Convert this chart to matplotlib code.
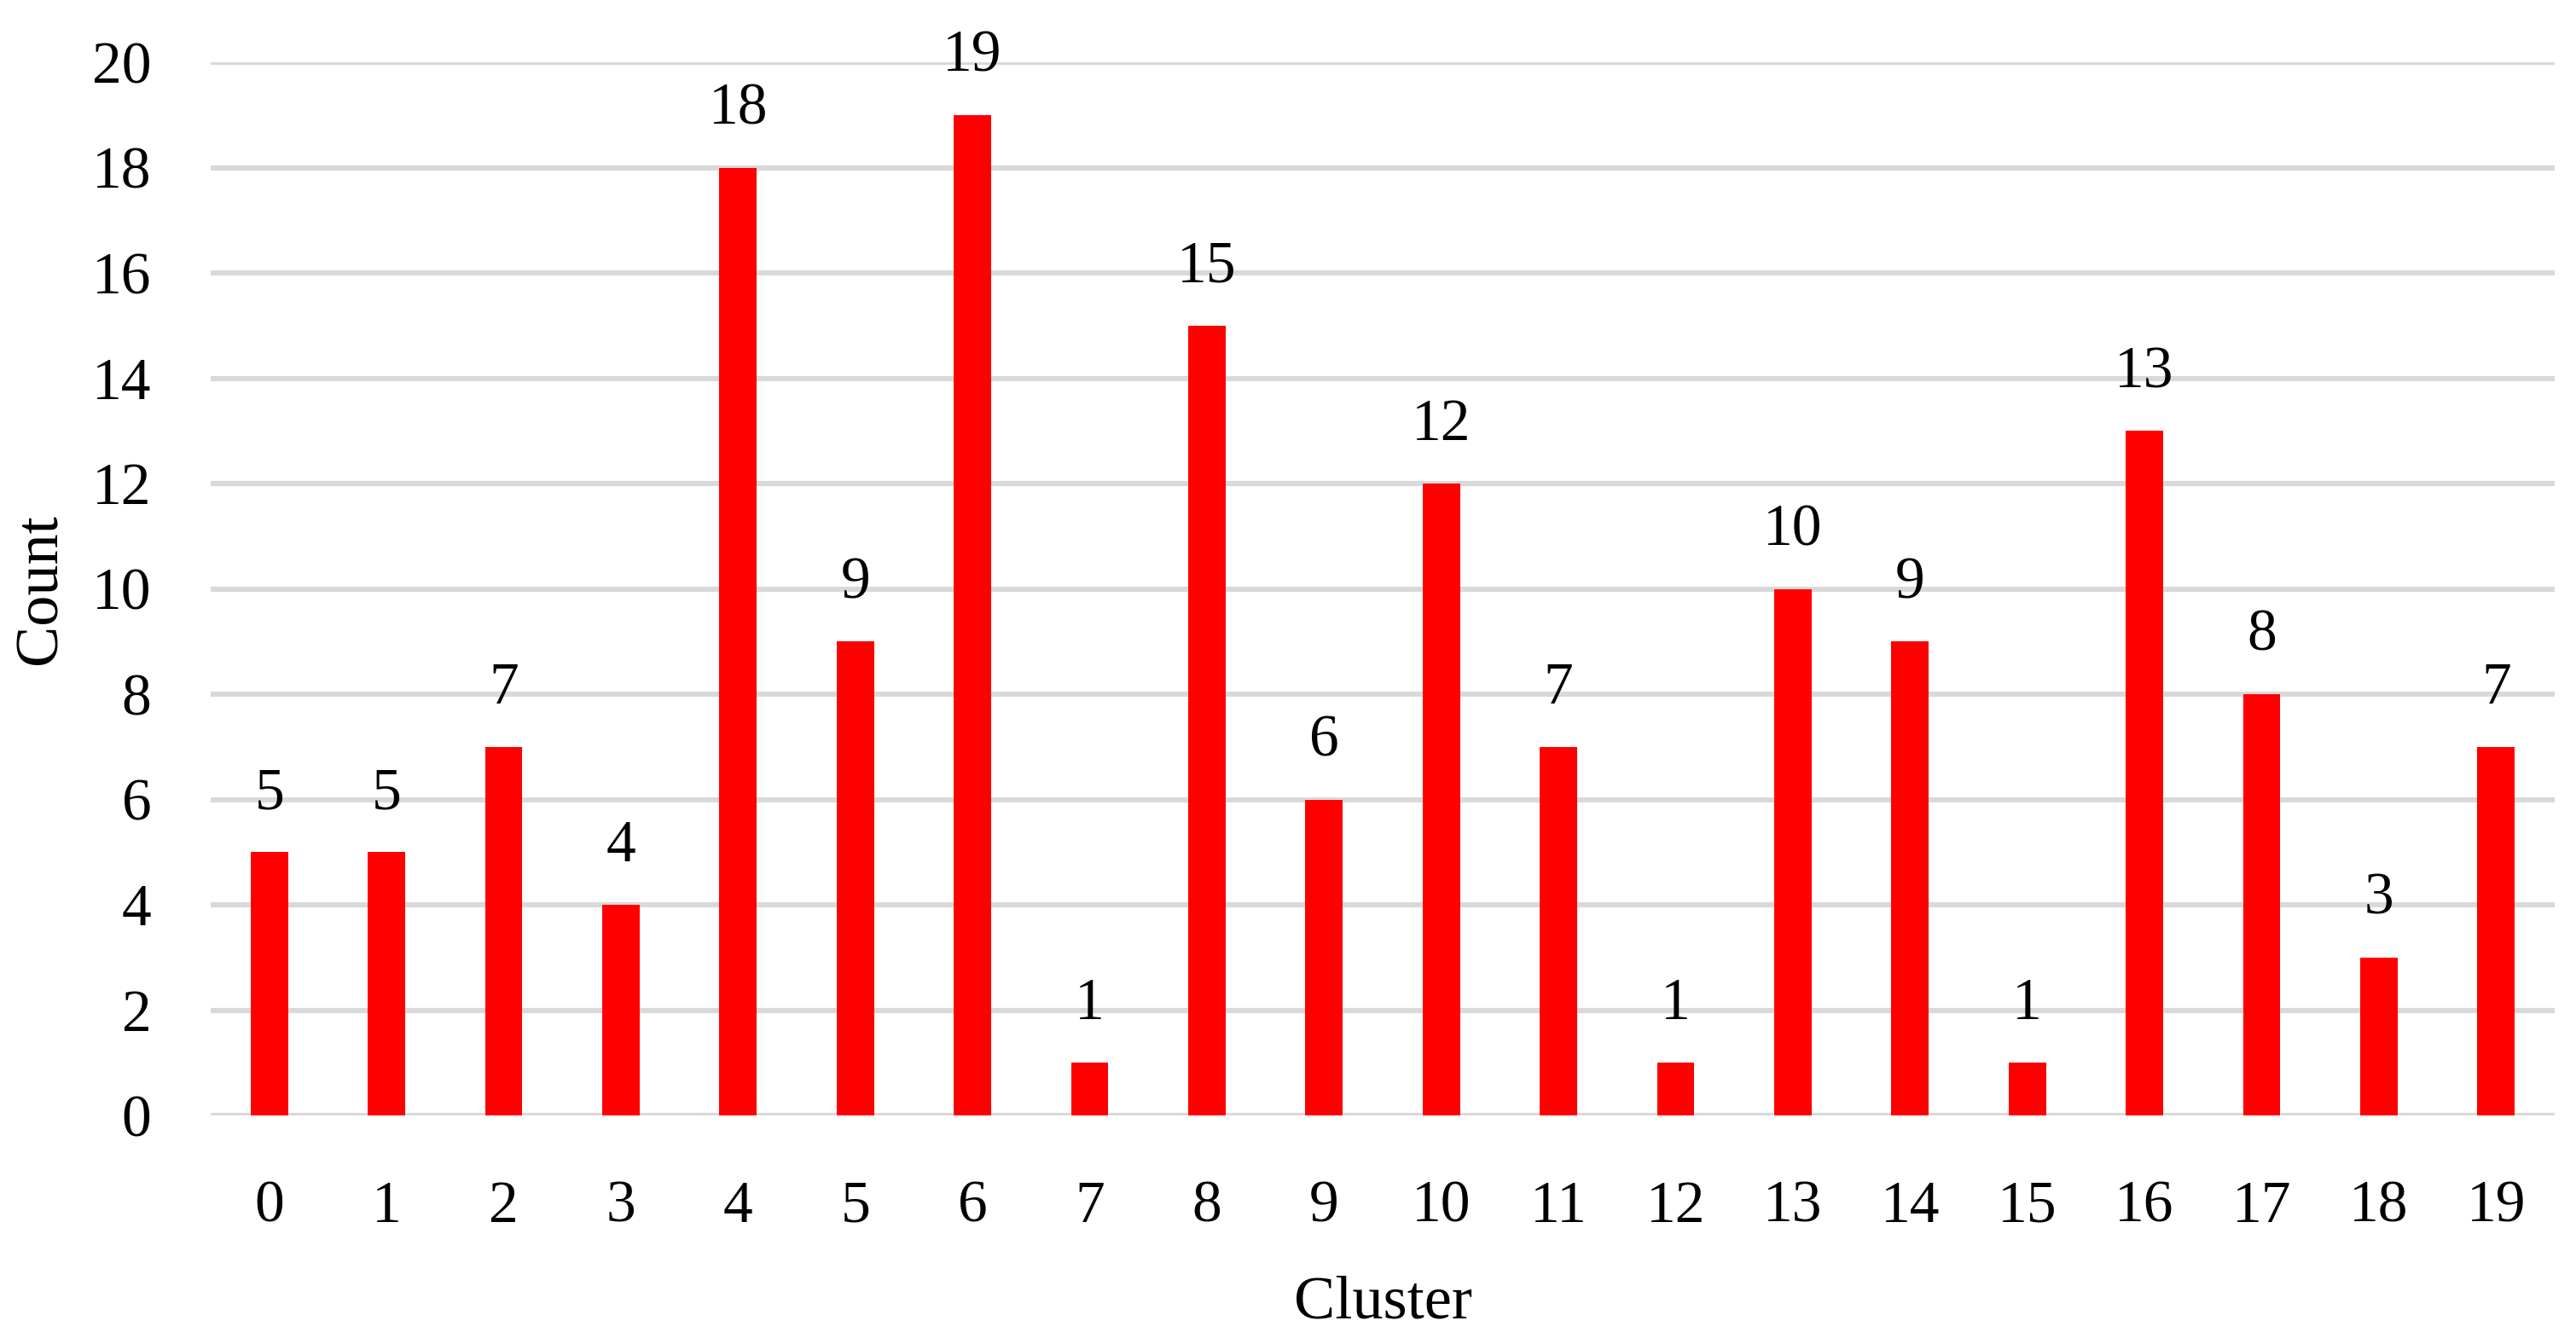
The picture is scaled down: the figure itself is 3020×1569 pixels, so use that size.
import matplotlib
matplotlib.use("Agg")
import matplotlib.pyplot as plt

clusters = [str(i) for i in range(20)]
counts = [5, 5, 7, 4, 18, 9, 19, 1, 15, 6, 12, 7, 1, 10, 9, 1, 13, 8, 3, 7]
yticks = list(range(0, 21, 2))

plt.rcParams['font.family'] = ['Liberation Serif', 'DejaVu Serif']

fig = plt.figure(figsize=(15.1, 7.845), dpi=200)
ax = fig.add_axes([247/3020, 1 - 1308/1569, (2995-247)/3020, (1308-73)/1569])

x = list(range(len(clusters)))
bars = ax.bar(x, counts, width=0.32, color='#FF0000', zorder=3)

ax.set_xlim(-0.5, len(clusters) - 0.5)
ax.set_ylim(0, 20)
ax.set_yticks(yticks)
ax.set_xticks(x)
ax.set_xticklabels(clusters)
ax.yaxis.grid(True, color='#D9D9D9', linewidth=2.2, zorder=0)
ax.set_axisbelow(True)
for s in ax.spines.values():
    s.set_visible(False)
ax.tick_params(axis='both', length=0, labelsize=25)
ax.tick_params(axis='y', pad=25)
ax.tick_params(axis='x', pad=27.5)

for xi, v in zip(x, counts):
    ax.annotate(str(v), (xi, v), xytext=(0, 13), textcoords='offset points',
                ha='center', va='bottom', fontsize=25, clip_on=False)

ax.set_xlabel('Cluster', fontsize=26, labelpad=17)
ax.set_ylabel('Count', fontsize=26, va='center')
ax.yaxis.set_label_coords(-0.0724, 0.5)

fig.savefig('out.png', dpi=200)
